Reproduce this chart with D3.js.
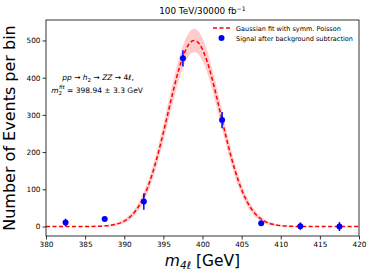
<!DOCTYPE html>
<html><head><meta charset="utf-8">
<script src="https://cdn.jsdelivr.net/npm/d3@7"></script>
<style>
body{margin:0;background:#fff;}
text{font-family:"DejaVu Sans",sans-serif;}
</style></head>
<body><svg id="c" width="374" height="276"></svg>
<script>
// data
const binCenters = [382.5, 387.5, 392.5, 397.5, 402.5, 407.5, 412.5, 417.5];
const signal     = [11, 20, 67, 452, 286, 9, 1, 0];
const signalErr  = [10, 5, 22, 22, 22, 6, 10, 12];
const xTicks = [380, 385, 390, 395, 400, 405, 410, 415, 420];
const yTicks = [0, 100, 200, 300, 400, 500];
const fitAmp = 500, fitMean = 398.94, fitSigma = 3.37, bandScale = 1.4;

const svg = d3.select("#c");
const L = 46, R = 359, T = 20, B = 236;
const x = d3.scaleLinear().domain([380, 420]).range([L, R]);
const y = d3.scaleLinear().domain([-25.5, 555]).range([B, T]);

const fitX = d3.range(380, 420.001, 0.1);
const g = v => fitAmp * Math.exp(-((v - fitMean) ** 2) / (2 * fitSigma ** 2));
const fitPts = fitX.map(v => ({x: v, f: g(v)}));

svg.append("clipPath").attr("id", "clip").append("rect")
  .attr("x", L).attr("y", T).attr("width", R - L).attr("height", B - T);
const plot = svg.append("g").attr("clip-path", "url(#clip)");

plot.append("path").datum(fitPts)
  .attr("d", d3.area().x(d => x(d.x))
    .y0(d => y(d.f - bandScale * Math.sqrt(d.f)))
    .y1(d => y(d.f + bandScale * Math.sqrt(d.f))))
  .attr("fill", "#ff0000").attr("fill-opacity", 0.2);

plot.append("path").datum(fitPts)
  .attr("d", d3.line().x(d => x(d.x)).y(d => y(d.f)))
  .attr("fill", "none").attr("stroke", "#ff0000").attr("stroke-width", 1.5)
  .attr("stroke-dasharray", "4,2.5");

// error bars & points
const pts = binCenters.map((c, i) => ({c, v: signal[i], e: signalErr[i]}));
plot.selectAll(".eb").data(pts).enter().append("line")
  .attr("x1", d => x(d.c)).attr("x2", d => x(d.c))
  .attr("y1", d => y(d.v - d.e)).attr("y2", d => y(d.v + d.e))
  .attr("stroke", "#0000ff").attr("stroke-width", 1.5);
plot.selectAll(".pt").data(pts).enter().append("circle")
  .attr("cx", d => x(d.c)).attr("cy", d => y(d.v)).attr("r", 3)
  .attr("fill", "#0000ff");

// axes
const xa = svg.append("g").attr("transform", `translate(0,${B})`)
  .call(d3.axisBottom(x).tickValues(xTicks).tickSize(3.5).tickPadding(2).tickFormat(d3.format("d")));
const ya = svg.append("g").attr("transform", `translate(${L},0)`)
  .call(d3.axisLeft(y).tickValues(yTicks).tickSize(3.5).tickPadding(2).tickFormat(d3.format("d")));
[xa, ya].forEach(a => {
  a.select(".domain").remove();
  a.selectAll("line").attr("stroke", "#000").attr("stroke-width", 0.8);
  a.selectAll("text").attr("font-size", 7.3).attr("fill", "#000").attr("font-family", "DejaVu Sans");
});
svg.append("rect").attr("x", L).attr("y", T).attr("width", R - L).attr("height", B - T)
  .attr("fill", "none").attr("stroke", "#000").attr("stroke-width", 0.8);

// title
const title = svg.append("text").attr("x", (L + R) / 2).attr("y", 14)
  .attr("text-anchor", "middle").attr("font-size", 8.8);
title.append("tspan").text("100 TeV/30000 fb");
title.append("tspan").attr("dy", -3.5).attr("font-size", 6.2).text("−1");

// axis labels
const xl = svg.append("text").attr("x", (L + R) / 2).attr("y", 266)
  .attr("text-anchor", "middle").attr("font-size", 15.5);
xl.append("tspan").attr("font-style", "italic").text("m");
xl.append("tspan").attr("dy", 3).attr("font-size", 10.5).attr("font-style", "italic").text("4ℓ");
xl.append("tspan").attr("dy", -3).text(" [GeV]");

svg.append("text").attr("transform", `translate(14.5,${(T + B) / 2}) rotate(-90)`)
  .attr("text-anchor", "middle").attr("font-size", 16).text("Number of Events per bin");

// annotation
const a1 = svg.append("text").attr("x", 98).attr("y", 80).attr("text-anchor", "middle").attr("font-size", 7.5);
a1.append("tspan").attr("font-style", "italic").text("pp");
a1.append("tspan").text(" → ");
a1.append("tspan").attr("font-style", "italic").text("h");
a1.append("tspan").attr("dy", 1.5).attr("font-size", 5.5).text("2");
a1.append("tspan").attr("dy", -1.5).text(" → ");
a1.append("tspan").attr("font-style", "italic").text("ZZ");
a1.append("tspan").text(" → 4");
a1.append("tspan").attr("font-style", "italic").text("ℓ");
a1.append("tspan").text(",");
const a2 = svg.append("text").attr("x", 97).attr("y", 93).attr("text-anchor", "middle").attr("font-size", 7.5);
a2.append("tspan").attr("font-style", "italic").text("m");
a2.append("tspan").attr("dy", 2).attr("font-size", 5.5).text("2");
a2.append("tspan").attr("dy", -6).attr("dx", -3).attr("font-size", 5.5).attr("font-style", "italic").text("fit");
a2.append("tspan").attr("dy", 4).text(" = 398.94 ± 3.3 GeV");

// legend
const lg = svg.append("g");
lg.append("line").attr("x1", 213).attr("x2", 230).attr("y1", 28).attr("y2", 28)
  .attr("stroke", "#ff0000").attr("stroke-width", 1.5).attr("stroke-dasharray", "4,2.5");
lg.append("text").attr("x", 236).attr("y", 30.5).attr("font-size", 6.5).text("Gaussian fit with symm. Poisson");
lg.append("circle").attr("cx", 221.5).attr("cy", 38).attr("r", 3).attr("fill", "#0000ff");
lg.append("text").attr("x", 236).attr("y", 40.5).attr("font-size", 6.5).text("Signal after background subtraction");
</script></body></html>
